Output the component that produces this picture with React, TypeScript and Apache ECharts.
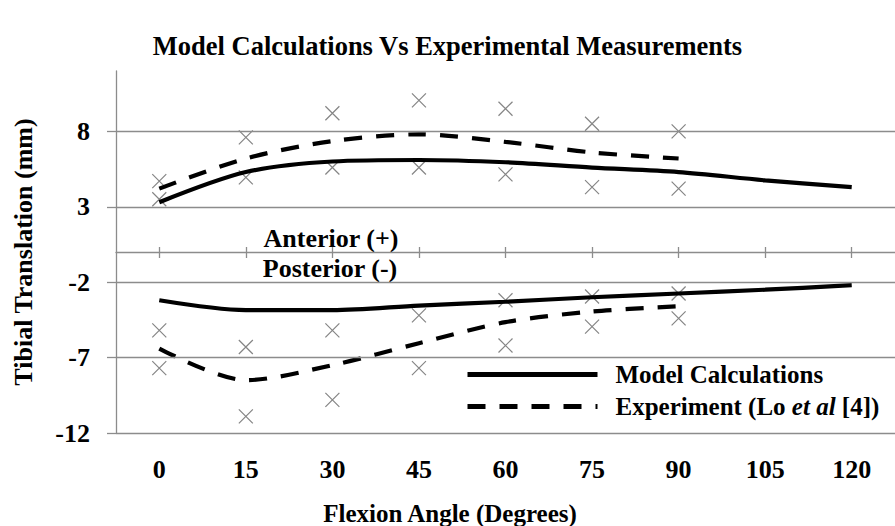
import React, { useEffect, useRef } from "react";
import * as echarts from "echarts";

const FONT = '"Liberation Serif", "Times New Roman", serif';

const angles = ["0", "15", "30", "45", "60", "75", "90", "105", "120"];
const yTicks = [-12, -7, -2, 3, 8];

const modelAnterior = [3.3, 5.3, 6.0, 6.1, 5.95, 5.6, 5.3, 4.75, 4.3];
const modelPosterior = [-3.2, -3.85, -3.85, -3.55, -3.3, -3.0, -2.75, -2.5, -2.2];
const expAnterior = [4.2, 6.2, 7.35, 7.8, 7.3, 6.6, 6.2];
const expPosterior = [-6.4, -8.5, -7.5, -6.05, -4.65, -3.95, -3.6];

const expAnteriorHigh = [4.7, 7.6, 9.2, 10.05, 9.5, 8.5, 8.0];
const expAnteriorLow = [3.5, 4.95, 5.6, 5.6, 5.15, 4.3, 4.2];
const expPosteriorHigh = [-5.2, -6.3, -5.2, -4.2, -3.2, -2.95, -2.75];
const expPosteriorLow = [-7.7, -10.9, -9.8, -7.7, -6.2, -4.95, -4.4];

const MODEL = "Model Calculations";
const EXP = "Experiment (Lo et al [4])";

const GRAY = "#8c8c8c";

export default function App() {
  const ref = useRef<HTMLDivElement>(null);
  useEffect(() => {
    if (!ref.current) return;
    const chart = echarts.init(ref.current, null, { renderer: "svg" });
    const xMark = "path://M0,0L10,10M10,0L0,10";
    const scatter = (vals: number[]) => ({
      type: "scatter",
      name: "range",
      data: vals.map((v, i) => [i, v]),
      symbol: xMark,
      symbolSize: 14,
      itemStyle: { color: "transparent", borderColor: "#666", borderWidth: 1.2 },
      z: 2,
    });
    const lineBase = (name: string, vals: number[], dashed: boolean) => ({
      type: "line",
      name,
      data: vals,
      symbol: "none",
      smooth: 0.3,
      lineStyle: { color: "#000", width: 4.2, type: dashed ? [18, 14] : "solid" },
      itemStyle: { color: "#000" },
      z: 3,
    });
    const bold = { fontFamily: FONT, fontWeight: "bold", color: "#000" };
    chart.setOption({
      animation: false,
      backgroundColor: "#fff",
      title: {
        text: "Model Calculations Vs Experimental Measurements",
        left: "center",
        top: 27,
        textStyle: { ...bold, fontSize: 26.5 },
      },
      grid: { left: 116, right: -8.5, top: 71, bottom: 93, containLabel: false },
      legend: {
        data: [MODEL, EXP],
        orient: "vertical",
        left: 460,
        top: 357,
        itemWidth: 130,
        itemHeight: 14,
        itemGap: 7,
        lineStyle: { width: 5 },
        itemStyle: { opacity: 0 },
        formatter: (n: string) =>
          n === EXP ? "{n|Experiment (Lo }{i|et al}{n| [4])}" : "{n|" + n + "}",
        textStyle: {
          ...bold,
          fontSize: 25,
          padding: [0, 0, 0, 13],
          rich: {
            n: { ...bold, fontSize: 25 },
            i: { ...bold, fontStyle: "italic", fontSize: 25 },
          },
        },
      },
      xAxis: [
        {
          type: "category",
          data: angles,
          boundaryGap: true,
          position: "bottom",
          axisLine: { onZero: true, lineStyle: { color: GRAY, width: 1.3 } },
          axisTick: { show: true, alignWithLabel: true, length: 6, lineStyle: { color: GRAY, width: 1.3 } },
          axisLabel: { show: false },
          splitLine: { show: false },
        },
        {
          type: "category",
          data: angles,
          boundaryGap: true,
          position: "top",
          axisLine: { show: false, onZero: true, onZeroAxisIndex: 1 },
          axisTick: { show: true, alignWithLabel: true, length: 5, lineStyle: { color: GRAY, width: 1.3 } },
          axisLabel: { show: false },
          splitLine: { show: false },
        },
        {
          type: "category",
          data: angles,
          boundaryGap: true,
          position: "bottom",
          axisLine: { show: false, onZero: false },
          axisTick: { show: false },
          axisLabel: { show: true, margin: 23, ...bold, fontSize: 26 },
          splitLine: { show: false },
        },
      ],
      yAxis: [
        {
          type: "value",
          min: -12,
          max: 12,
          interval: 5,
          name: "Tibial Translation (mm)",
          nameLocation: "middle",
          nameRotate: 90,
          nameGap: 80,
          nameTextStyle: { ...bold, fontSize: 26 },
          axisLine: { show: true, lineStyle: { color: GRAY, width: 1.3 } },
          axisTick: { show: true, length: 9, customValues: yTicks, lineStyle: { color: GRAY, width: 1.3 } },
          axisLabel: { show: true, margin: 26, customValues: yTicks, ...bold, fontSize: 26 },
          splitLine: { show: false },
        },
        { type: "value", min: -12, max: 12, show: false, splitLine: { show: false } },
      ],
      graphic: [
        {
          type: "text",
          x: 331,
          y: 238,
          style: { text: "Anterior (+)", align: "center", verticalAlign: "middle", fontFamily: FONT, fontWeight: "bold", fontSize: 26, fill: "#000" },
        },
        {
          type: "text",
          x: 330,
          y: 268,
          style: { text: "Posterior (-)", align: "center", verticalAlign: "middle", fontFamily: FONT, fontWeight: "bold", fontSize: 26, fill: "#000" },
        },
        {
          type: "text",
          x: 450,
          y: 513,
          style: { text: "Flexion Angle (Degrees)", align: "center", verticalAlign: "middle", fontFamily: FONT, fontWeight: "bold", fontSize: 25, fill: "#000" },
        },
      ],
      series: [
        {
          ...scatter(expAnteriorHigh),
          markLine: {
            silent: true,
            symbol: ["none", "none"],
            label: { show: false },
            lineStyle: { color: GRAY, width: 1.3, type: "solid" },
            data: yTicks.map((v) => ({ yAxis: v })),
          },
        },
        scatter(expAnteriorLow),
        scatter(expPosteriorHigh),
        scatter(expPosteriorLow),
        lineBase(MODEL, modelAnterior, false),
        lineBase(MODEL, modelPosterior, false),
        lineBase(EXP, expAnterior, true),
        lineBase(EXP, expPosterior, true),
      ],
    });
    return () => chart.dispose();
  }, []);
  return (
    <div
      ref={ref}
      style={{ position: "fixed", left: 0, top: 0, width: 895, height: 526, background: "#fff" }}
    />
  );
}
